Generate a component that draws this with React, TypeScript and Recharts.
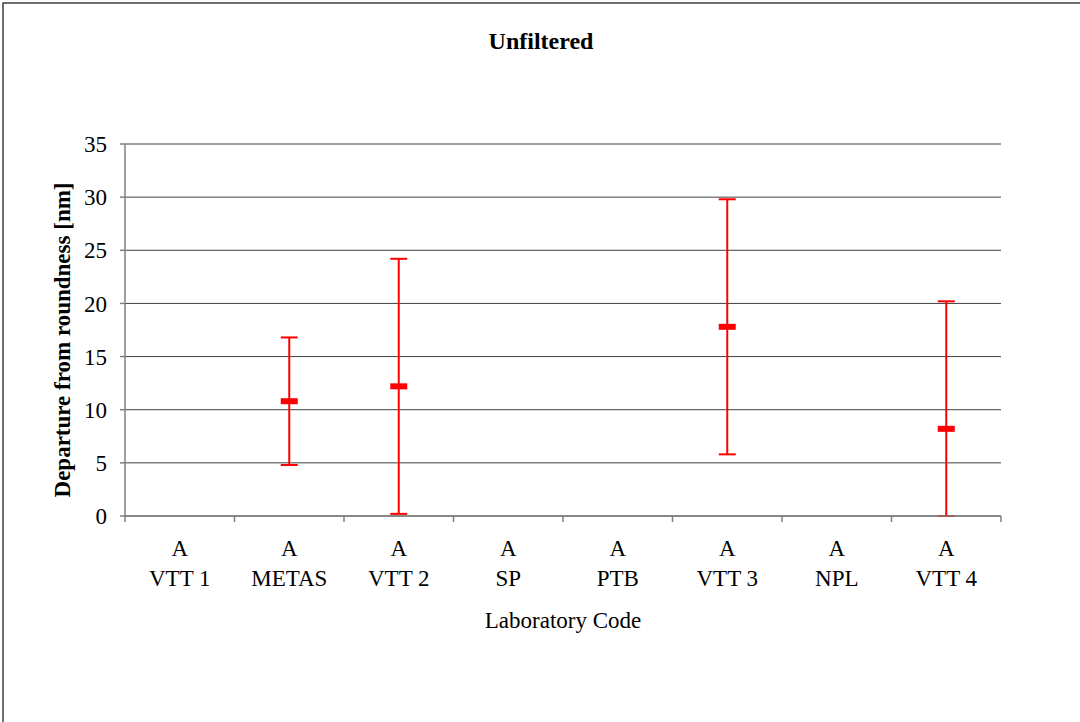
import React from "react";
import {
  ScatterChart,
  Scatter,
  XAxis,
  YAxis,
  CartesianGrid,
  ErrorBar,
} from "recharts";

// Laboratory codes, written as two lines under each slot
const labTopLine = ["A", "A", "A", "A", "A", "A", "A", "A"];
const labBottomLine = ["VTT 1", "METAS", "VTT 2", "SP", "PTB", "VTT 3", "NPL", "VTT 4"];

// Measured departure from roundness [nm] and expanded uncertainty (null = no result)
const roundness: (number | null)[] = [null, 10.8, 12.2, null, null, 17.8, null, 8.2];
const uncertainty: (number | null)[] = [null, 6.0, 12.0, null, null, 12.0, null, 12.0];

const yTicks = [0, 5, 10, 15, 20, 25, 30, 35];
const Y_MIN = 0;
const Y_MAX = 35;

const FONT = "'Liberation Serif', 'Times New Roman', serif";
const RED = "#FF0000";

// Whiskers are cut off at the floor of the value axis
const points = labBottomLine
  .map((name, i) => {
    const y = roundness[i];
    const u = uncertainty[i];
    return {
      name,
      x: i + 0.5,
      y,
      err: y === null || u === null ? null : [Math.min(u, y - Y_MIN), u],
    };
  })
  .filter((p) => p.y !== null);

// Slot boundaries carry tick marks, slot centres carry the two-line labels
const xTicks: number[] = [];
for (let i = 0; i <= labBottomLine.length * 2; i++) xTicks.push(i / 2);

const LabTick = (props: any) => {
  const { x, y, payload } = props;
  const v = payload.value as number;
  if (Number.isInteger(v)) {
    return <line x1={x} y1={y} x2={x} y2={y + 6} stroke="#808080" strokeWidth={1.5} />;
  }
  const idx = Math.floor(v);
  return (
    <g>
      <text x={x} y={y + 40} textAnchor="middle" fontFamily={FONT} fontSize={23} fill="#000">
        {labTopLine[idx]}
      </text>
      <text x={x} y={y + 70} textAnchor="middle" fontFamily={FONT} fontSize={23} fill="#000">
        {labBottomLine[idx]}
      </text>
    </g>
  );
};

const MeanMark = (props: any) => {
  const { cx, cy } = props;
  if (cx == null || cy == null) return null;
  return <rect x={cx - 8.5} y={cy - 3} width={17} height={6} fill={RED} />;
};

export default function App() {
  return (
    <div style={{ position: "fixed", left: 0, top: 0, width: 1080, height: 722, background: "#fff" }}>
      <ScatterChart
        width={1080}
        height={722}
        margin={{ top: 144, right: 79, bottom: 106, left: 25 }}
      >
        <CartesianGrid vertical={false} stroke="#404040" strokeWidth={1} />
        <XAxis
          type="number"
          dataKey="x"
          domain={[0, labBottomLine.length]}
          ticks={xTicks}
          interval={0}
          tickLine={false}
          tickSize={0}
          tickMargin={0}
          height={100}
          axisLine={{ stroke: "#808080", strokeWidth: 1.5 }}
          tick={<LabTick />}
        />
        <YAxis
          type="number"
          dataKey="y"
          domain={[Y_MIN, Y_MAX]}
          ticks={yTicks}
          interval={0}
          allowDataOverflow
          width={100}
          tickSize={5}
          tickMargin={13}
          axisLine={{ stroke: "#808080", strokeWidth: 1.5 }}
          tickLine={{ stroke: "#808080", strokeWidth: 1.5 }}
          tick={{ fontFamily: FONT, fontSize: 23, fill: "#000" }}
        />
        <Scatter data={points} shape={<MeanMark />} isAnimationActive={false}>
          <ErrorBar
            dataKey="err"
            direction="y"
            width={8.5}
            stroke={RED}
            strokeWidth={2}
            isAnimationActive={false}
          />
        </Scatter>
      </ScatterChart>
      <svg
        width={1080}
        height={722}
        style={{ position: "absolute", left: 0, top: 0, pointerEvents: "none" }}
      >
        <rect x={3} y={3} width={1100} height={740} fill="none" stroke="#404040" strokeWidth={1.5} />
        <text x={541} y={49} textAnchor="middle" fontFamily={FONT} fontWeight="bold" fontSize={24} fill="#000">
          Unfiltered
        </text>
        <text
          x={70}
          y={340}
          transform="rotate(-90, 70, 340)"
          textAnchor="middle"
          fontFamily={FONT}
          fontWeight="bold"
          fontSize={23}
          fill="#000"
        >
          Departure from roundness [nm]
        </text>
        <text x={563} y={628} textAnchor="middle" fontFamily={FONT} fontSize={23} fill="#000">
          Laboratory Code
        </text>
      </svg>
    </div>
  );
}
